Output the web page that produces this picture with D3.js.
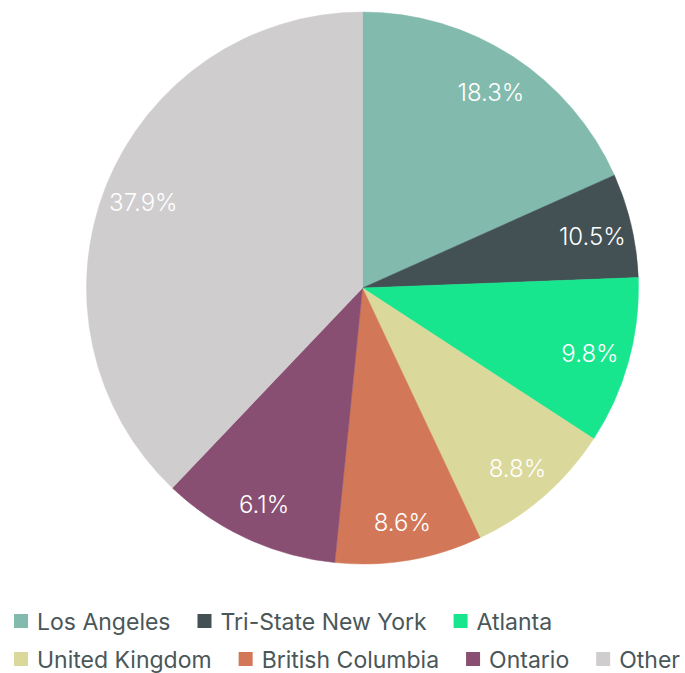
<!DOCTYPE html>
<html>
<head>
<meta charset="utf-8">
<script src="https://cdn.jsdelivr.net/npm/d3@7"></script>
<style>
  html, body { margin: 0; padding: 0; background: #fff; }
  svg { display: block; }
  text { font-family: Inter, "Noto Sans", sans-serif; }
</style>
</head>
<body>
<svg id="chart" width="685" height="673"></svg>
<script>
// Data (slice sizes as drawn, in percent)
const categories = ["Los Angeles", "Tri-State New York", "Atlanta", "United Kingdom", "British Columbia", "Ontario", "Other"];
const values = [18.3, 6.1, 9.8, 8.8, 8.6, 10.5, 37.9];
// Labels printed on the slices (as shown in the picture)
const sliceLabels = ["18.3%", "10.5%", "9.8%", "8.8%", "8.6%", "6.1%", "37.9%"];
const colors = ["#82bbad", "#435154", "#17e68e", "#dbd89b", "#d27858", "#894f72", "#d0cdcf"];

const W = 685, H = 673;
const cx = 362.5, cy = 288, R = 276;
const svg = d3.select("#chart");

const data = categories.map((c, i) => ({ name: c, value: values[i], label: sliceLabels[i], color: colors[i] }));

const pie = d3.pie().value(d => d.value).sort(null);
const arc = d3.arc().innerRadius(0).outerRadius(R);
const labelArc = d3.arc().innerRadius(236).outerRadius(236);

const g = svg.append("g").attr("transform", `translate(${cx},${cy})`);
const arcs = pie(data);

g.selectAll("path.slice").data(arcs).join("path")
  .attr("class", "slice")
  .attr("d", arc)
  .attr("fill", d => d.data.color)
  .attr("stroke", d => d.data.color)
  .attr("stroke-width", 0.5);

g.selectAll("text.lbl").data(arcs).join("text")
  .attr("class", "lbl")
  .attr("transform", d => `translate(${labelArc.centroid(d)})`)
  .attr("text-anchor", "middle")
  .attr("dy", "0.45em")
  .attr("fill", "#ffffff")
  .attr("font-size", 24)
  .attr("font-weight", 300)
  .text(d => d.data.label);

// Legend
const legend = svg.append("g").attr("class", "legend");
const startX = 14, markerSize = 14, markerGap = 9, itemGap = 27;
const rowBase = [630, 668];
let x = startX, row = 0;
data.forEach((d, i) => {
  const item = legend.append("g");
  const t = item.append("text")
    .attr("font-size", 23)
    .attr("fill", "#4a5759")
    .text(d.name);
  const tw = t.node().getComputedTextLength();
  const itemW = markerSize + markerGap + tw;
  if (x + itemW > W && x > startX) { row += 1; x = startX; }
  const base = rowBase[row] !== undefined ? rowBase[row] : rowBase[0] + row * 38;
  item.append("rect")
    .attr("x", x).attr("y", base - 16)
    .attr("width", markerSize).attr("height", markerSize)
    .attr("fill", d.color);
  t.attr("x", x + markerSize + markerGap).attr("y", base);
  x += itemW + itemGap;
});
</script>
</body>
</html>
